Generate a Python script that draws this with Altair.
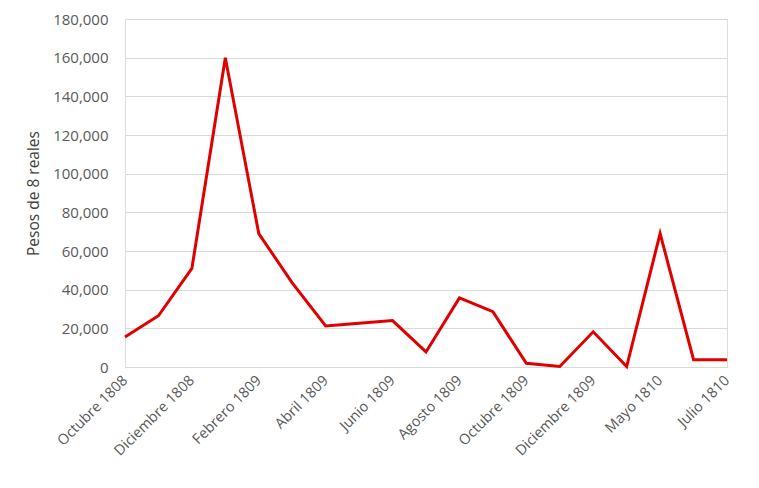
import altair as alt
import pandas as pd

meses = ["Octubre 1808", "Noviembre 1808", "Diciembre 1808", "Enero 1809",
         "Febrero 1809", "Marzo 1809", "Abril 1809", "Mayo 1809", "Junio 1809",
         "Julio 1809", "Agosto 1809", "Septiembre 1809", "Octubre 1809",
         "Noviembre 1809", "Diciembre 1809", "Enero-Abril 1810", "Mayo 1810",
         "Junio 1810", "Julio 1810"]
pesos = [15500, 26500, 51000, 160000, 69000, 43500, 21200, 22600, 24000,
         7800, 35700, 28600, 1900, 300, 18200, 200, 69000, 3800, 3800]
y_ticks = list(range(0, 180001, 20000))

df = pd.DataFrame({"mes": meses, "pesos": pesos})
etiquetas = meses[::2]

font = "Open Sans"
gris = "#595959"

chart = alt.Chart(df).mark_line(color="#E00000", strokeWidth=3, strokeJoin="miter").encode(
    x=alt.X("mes:N", sort=meses, title=None,
            scale=alt.Scale(type="point", padding=0),
            axis=alt.Axis(values=etiquetas, labelAngle=-45, labelAlign="right",
                          labelBaseline="middle", labelPadding=11, ticks=False,
                          domain=True, domainColor="#d9d9d9", grid=False,
                          labelFont=font, labelFontSize=14.5, labelColor=gris,
                          labelOverlap=False)),
    y=alt.Y("pesos:Q", title="Pesos de 8 reales",
            scale=alt.Scale(domain=[0, 180000], nice=False),
            axis=alt.Axis(values=y_ticks, format=",.0f", ticks=False, domain=False,
                          grid=True, gridColor="#d9d9d9", gridWidth=1,
                          labelPadding=17, labelFont=font, labelFontSize=15,
                          labelColor=gris, titleFont=font, titleFontSize=15.5,
                          titleFontWeight="normal", titleColor="#404040",
                          titleAngle=-90, titleX=-92, titleY=174,
                          titleAlign="center", titleBaseline="middle")),
).properties(
    width=602, height=348,
    autosize=alt.AutoSizeParams(type="none"),
    padding={"left": 117, "top": 11, "right": 24, "bottom": 113},
).configure_view(stroke=None).configure(background="white")

chart.save("out.html", embed_options={"renderer": "svg", "actions": False})
